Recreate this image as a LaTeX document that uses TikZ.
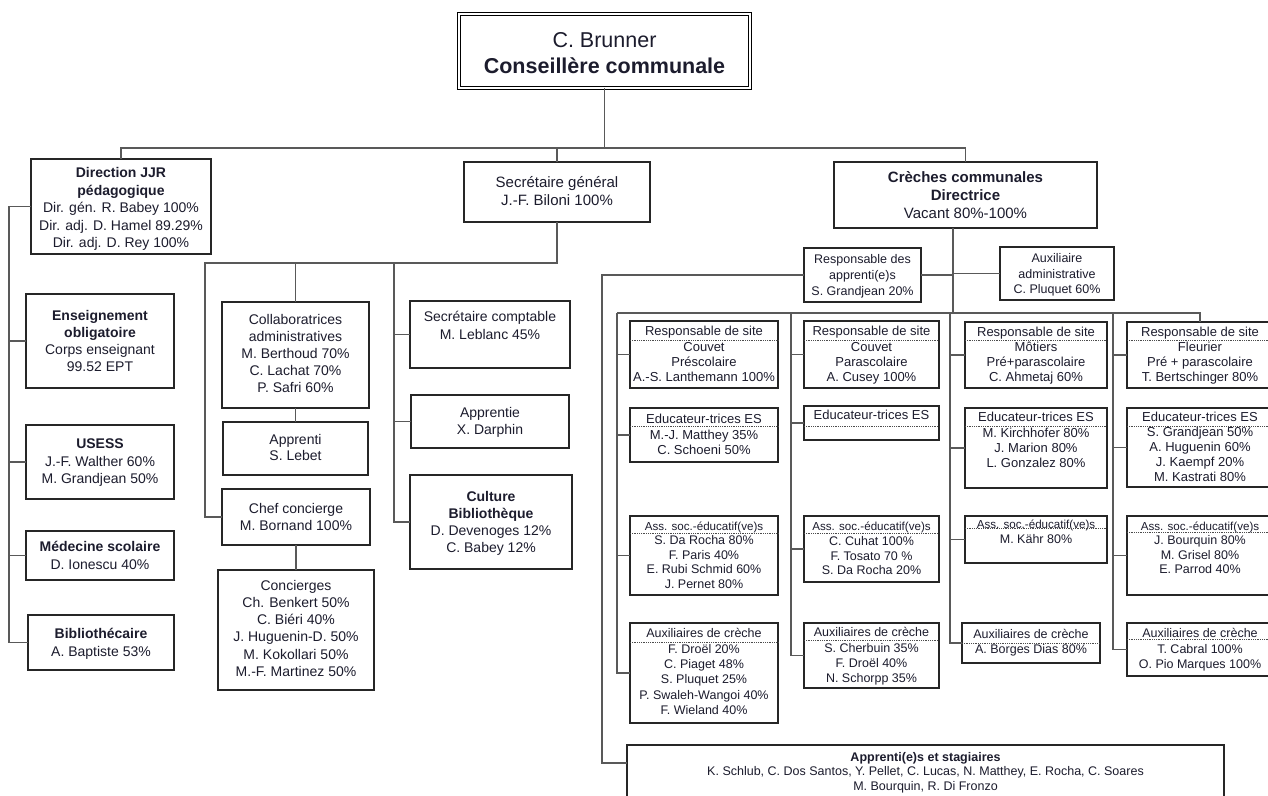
\documentclass[tikz,border=0pt]{standalone}
\usepackage{fontspec}
\setmainfont{Liberation Sans}
\definecolor{textc}{RGB}{28,28,45}
\tikzset{
  box/.style={draw=black!85, line width=1.2pt, inner sep=0pt, outer sep=0pt, rectangle},
  conn/.style={draw=black!65, line width=1.2pt},
  sepline/.style={draw=black!70, line width=0.9pt, dash pattern=on 0.9pt off 0.9pt},
  txt/.style={anchor=north, align=center, inner sep=0pt, outer sep=0pt, text=textc},
}
\newcommand\mybox[6][]{\node[box,#1,minimum width={(#5-#3)*1pt},minimum height={(#6-#4)*1pt}] (#2) at ({(#3+#5)/2},{(#4+#6)/2}) {};}
\newcommand\mytext[5]{\node[txt,font=\fontsize{#2}{#3}\selectfont] (#1) at (#4) {#5};}
\newcommand\mysep[2]{\draw[sepline] (#1.west |- 0,#2) -- (#1.east |- 0,#2);}
\begin{document}
\begin{tikzpicture}[x=1pt,y=-1pt]
\clip (0,0) rectangle (1268,795);
\fill[white] (0,0) rectangle (1268,795);

% ---------- top ----------
\node[box, draw=black, double, double distance=2.4pt, line width=0.9pt, minimum width=290.7pt, minimum height=73.7pt] (top) at (604.5,51) {};
\mytext{top-t}{21.5}{26}{604.5,32}{C. Brunner\\\textbf{Conseillère communale}}

% ---------- level 1 ----------
\mybox{dir}{31}{159}{211}{254}
\mytext{dir-t}{14}{17.5}{121,167.5}{\textbf{Direction JJR}\\\textbf{pédagogique}\\Dir. gén. R. Babey 100\%\\Dir. adj. D. Hamel 89.29\%\\Dir. adj. D. Rey 100\%}
\mybox{sg}{464}{162}{650}{222}
\mytext{sg-t}{15}{18}{557,176.5}{Secrétaire général\\J.-F. Biloni 100\%}
\mybox{cr}{834}{162}{1097}{228}
\mytext{cr-t}{15}{18.2}{965.5,171.2}{\textbf{Crèches communales}\\\textbf{Directrice}\\Vacant 80\%-100\%}

% ---------- left column ----------
\mybox{ens}{26}{294}{174}{388}
\mytext{ens-t}{14}{17}{100,310.5}{\textbf{Enseignement}\\\textbf{obligatoire}\\Corps enseignant\\99.52 EPT}
\mybox{usess}{26}{425}{174}{499}
\mytext{usess-t}{14}{17.5}{100,438.8}{\textbf{USESS}\\J.-F. Walther 60\%\\M. Grandjean 50\%}
\mybox{med}{26}{531}{174}{580}
\mytext{med-t}{14}{17.3}{100,541.5}{\textbf{Médecine scolaire}\\D. Ionescu 40\%}
\mybox{bib}{28}{615}{174}{670}
\mytext{bib-t}{14}{18}{101,627.8}{\textbf{Bibliothécaire}\\A. Baptiste 53\%}

% ---------- secretariat ----------
\mybox{col}{222}{302}{369}{408}
\mytext{col-t}{14}{17}{295.5,314.8}{Collaboratrices\\administratives\\M. Berthoud 70\%\\C. Lachat 70\%\\P. Safri 60\%}
\mybox{appi}{223}{422}{368}{475}
\mytext{appi-t}{14}{16}{295.5,434.8}{Apprenti\\S. Lebet}
\mybox{chef}{222}{489}{370}{545}
\mytext{chef-t}{14}{17.4}{296,503.1}{Chef concierge\\M. Bornand 100\%}
\mybox{conc}{218}{570}{374}{690}
\mytext{conc-t}{14}{17.1}{296,580.5}{Concierges\\Ch. Benkert 50\%\\C. Biéri 40\%\\J. Huguenin-D. 50\%\\M. Kokollari 50\%\\M.-F. Martinez 50\%}
\mybox{scpt}{410}{301}{570}{368}
\mytext{scpt-t}{14}{17.3}{490,311.5}{Secrétaire comptable\\M. Leblanc 45\%}
\mybox{appie}{411}{395}{569}{448}
\mytext{appie-t}{14}{16.6}{490,407.5}{Apprentie\\X. Darphin}
\mybox{cult}{410}{475}{572}{569}
\mytext{cult-t}{14}{16.9}{491,491.5}{\textbf{Culture}\\\textbf{Bibliothèque}\\D. Devenoges 12\%\\C. Babey 12\%}

% ---------- creches ----------
\mybox{resp}{804}{248}{921}{302}
\mytext{resp-t}{12.5}{16}{862.5,254.4}{Responsable des\\apprenti(e)s\\S. Grandjean 20\%}
\mybox{aux}{1000}{247}{1114}{300}
\mytext{aux-t}{12.5}{15.5}{1057,253.7}{Auxiliaire\\administrative\\C. Pluquet 60\%}

\mybox{site1}{630}{321}{778}{388}
\mytext{site1-t}{13}{15.4}{704,326.2}{Responsable de site\\Couvet\\Préscolaire\\A.-S. Lanthemann 100\%}
\mysep{site1}{340}
\mybox{site2}{804}{321}{939}{388}
\mytext{site2-t}{13}{15.4}{871.5,326.2}{Responsable de site\\Couvet\\Parascolaire\\A. Cusey 100\%}
\mysep{site2}{340}
\mybox{site3}{965}{322}{1107}{388}
\mytext{site3-t}{13}{15}{1036,326.9}{Responsable de site\\Môtiers\\Pré+parascolaire\\C. Ahmetaj 60\%}
\mysep{site3}{340}
\mybox{site4}{1127}{322}{1273}{388}
\mytext{site4-t}{13}{15}{1200,326.9}{Responsable de site\\Fleurier\\Pré + parascolaire\\T. Bertschinger 80\%}
\mysep{site4}{340}

\mybox{educ1}{630}{408}{778}{462}
\mytext{educ1-t}{13}{15.4}{704,414.5}{Educateur-trices ES\\M.-J. Matthey 35\%\\C. Schoeni 50\%}
\mysep{educ1}{426}
\mybox{educ2}{804}{406}{939}{440}
\mytext{educ2-t}{13}{15.4}{871.5,410.2}{Educateur-trices ES}
\mysep{educ2}{426}
\mybox{educ3}{965}{408}{1107}{488}
\mytext{educ3-t}{13}{15.1}{1036,412.5}{Educateur-trices ES\\M. Kirchhofer 80\%\\J. Marion 80\%\\L. Gonzalez 80\%}
\mysep{educ3}{426}
\mybox{educ4}{1127}{408}{1273}{487}
\mytext{educ4-t}{13}{15}{1200,412.5}{Educateur-trices ES\\S. Grandjean 50\%\\A. Huguenin 60\%\\J. Kaempf 20\%\\M. Kastrati 80\%}
\mysep{educ4}{426}

\mybox{ass1}{630}{516}{778}{595}
\mytext{ass1-t}{12.5}{14.6}{704,521.6}{{\fontsize{11.6}{14.6}\selectfont Ass. soc.-éducatif(ve)s}\\S. Da Rocha 80\%\\F. Paris 40\%\\E. Rubi Schmid 60\%\\J. Pernet 80\%}
\mysep{ass1}{533}
\mybox{ass2}{804}{516}{939}{582}
\mytext{ass2-t}{12.5}{14.7}{871.5,522.3}{{\fontsize{11.6}{14.7}\selectfont Ass. soc.-éducatif(ve)s}\\C. Cuhat 100\%\\F. Tosato 70 \%\\S. Da Rocha 20\%}
\mysep{ass2}{533}
\mybox{ass3}{965}{516}{1107}{563}
\mytext{ass3-t}{12.5}{15.3}{1036,519.8}{{\fontsize{11.6}{15.3}\selectfont Ass. soc.-éducatif(ve)s}\\M. Kähr 80\%}
\mysep{ass3}{528}
\mybox{ass4}{1127}{516}{1273}{595}
\mytext{ass4-t}{12.5}{14.5}{1200,521.6}{{\fontsize{11.6}{14.5}\selectfont Ass. soc.-éducatif(ve)s}\\J. Bourquin 80\%\\M. Grisel 80\%\\E. Parrod 40\%}
\mysep{ass4}{532}

\mybox{aux1}{630}{623}{778}{723}
\mytext{aux1-t}{12.5}{15.3}{704,628.7}{Auxiliaires de crèche\\F. Droël 20\%\\C. Piaget 48\%\\S. Pluquet 25\%\\P. Swaleh-Wangoi 40\%\\F. Wieland 40\%}
\mysep{aux1}{642}
\mybox{aux2}{804}{623}{939}{688}
\mytext{aux2-t}{12.5}{15.1}{871.5,627.7}{Auxiliaires de crèche\\S. Cherbuin 35\%\\F. Droël 40\%\\N. Schorpp 35\%}
\mysep{aux2}{640}
\mybox{aux3}{962}{623}{1100}{663}
\mytext{aux3-t}{12.5}{15}{1031,629.4}{Auxiliaires de crèche\\A. Borges Dias 80\%}
\mysep{aux3}{643}
\mybox{aux4}{1127}{623}{1273}{676}
\mytext{aux4-t}{12.5}{15.3}{1200,628.7}{Auxiliaires de crèche\\T. Cabral 100\%\\O. Pio Marques 100\%}
\mysep{aux4}{639}

\mybox{appr}{627}{745}{1224}{812}
\mytext{appr-t}{12.5}{14.5}{925.5,752.4}{\textbf{Apprenti(e)s et stagiaires}\\K. Schlub, C. Dos Santos, Y. Pellet, C. Lucas, N. Matthey, E. Rocha, C. Soares\\M. Bourquin, R. Di Fronzo}

% ---------- connectors ----------
\coordinate (bus1) at (0,148);
\draw[conn] (top.south) -- (top.south |- bus1);
\draw[conn] (dir.north) |- (cr.north |- bus1) -- (cr.north);
\draw[conn] (sg.north) -- (sg.north |- bus1);

\coordinate (l1) at (9,0);
\draw[conn] (dir.west) -| (l1 |- bib.west) -- (bib.west);
\draw[conn] (l1 |- ens.west) -- (ens.west);
\draw[conn] (l1 |- usess.west) -- (usess.west);
\draw[conn] (l1 |- med.west) -- (med.west);

\coordinate (s1) at (205,263);
\coordinate (s2) at (394,263);
\draw[conn] (sg.south) |- (s1) |- (chef.west);
\draw[conn] (col.north) -- (col.north |- s1);
\draw[conn] (s2) |- (cult.west);
\draw[conn] (s2 |- scpt.west) -- (scpt.west);
\draw[conn] (s2 |- appie.west) -- (appie.west);
\draw[conn] (col.south) -- (appi.north);
\draw[conn] (chef.south) -- (conc.north);

\coordinate (c0) at (953,313);
\draw[conn] (cr.south -| c0) -- (c0);
\draw[conn] (resp.east) -- (resp.east -| c0);
\draw[conn] (aux.west -| c0) -- (aux.west);
\coordinate (a0) at (602,763);
\draw[conn] (resp.west) -| (a0) -- (a0 -| appr.west);

\coordinate (k1) at (617,313);
\coordinate (k2) at (791,313);
\coordinate (k3) at (950,313);
\coordinate (k4) at (1113,313);
\draw[conn] (k1) -- (site4.north |- k1) -- (site4.north);
\draw[conn] (k1) |- (aux1.west);
\draw[conn] (k1 |- site1.west) -- (site1.west);
\draw[conn] (k1 |- educ1.west) -- (educ1.west);
\draw[conn] (k1 |- ass1.west) -- (ass1.west);
\draw[conn] (k2) |- (aux2.west);
\draw[conn] (k2 |- site2.west) -- (site2.west);
\draw[conn] (k2 |- educ2.west) -- (educ2.west);
\draw[conn] (k2 |- ass2.west) -- (ass2.west);
\draw[conn] (k3) |- (aux3.west);
\draw[conn] (k3 |- site3.west) -- (site3.west);
\draw[conn] (k3 |- educ3.west) -- (educ3.west);
\draw[conn] (k3 |- ass3.west) -- (ass3.west);
\draw[conn] (k4) |- (aux4.west);
\draw[conn] (k4 |- site4.west) -- (site4.west);
\draw[conn] (k4 |- educ4.west) -- (educ4.west);
\draw[conn] (k4 |- ass4.west) -- (ass4.west);
\end{tikzpicture}
\end{document}
